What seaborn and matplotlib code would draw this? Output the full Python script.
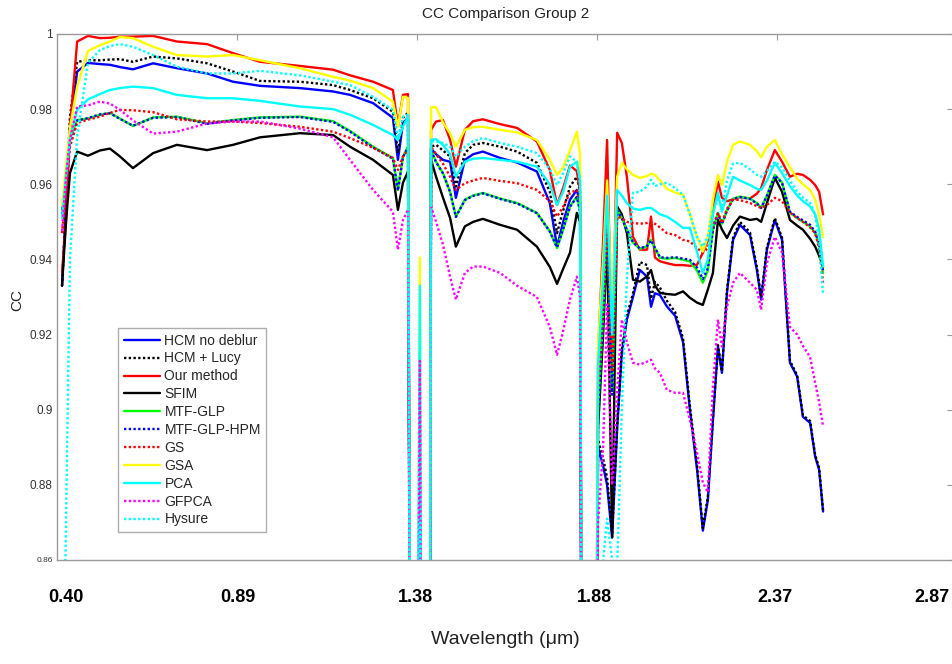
import matplotlib
matplotlib.use("Agg")
import matplotlib.pyplot as plt
import seaborn as sns
import pandas as pd

# ---------------- data ----------------
band = [1.4, 2.5, 3.6, 5.6, 8.6, 11.9, 14.7, 17.5, 21.1, 26.7, 33.3, 41.7, 48.9, 56.4, 67.5, 76.7, 81.4, 87.8, 93.3, 94.7, 96.1, 97.5,
        98.9, 100.8, 101.9, 103.1,
        103.9, 105.3, 107.2, 109.2, 110.8, 113.3, 115.6, 118.3, 123.1, 127.8, 133.3, 136.9, 138.9, 140.6, 142.5, 144.4, 145.3,
        146.4, 148.6,
        150.3, 151.7, 152.8, 154.2, 155.6, 156.9, 158.3, 160.0, 161.9, 163.9, 165.0, 166.1, 167.5, 169.4, 171.7, 173.9, 175.8,
        177.8, 179.4, 180.8, 182.2, 183.6, 184.7, 186.1, 187.8, 189.7, 192.5, 194.4, 195.6, 197.2, 199.4, 201.4, 203.6, 205.6,
        207.2, 209.2, 210.6, 211.7, 212.8]

hcm_no_deblur = [0.933, 0.955, 0.975, 0.990, 0.9923, 0.9920, 0.9918, 0.9912, 0.9906, 0.9922, 0.9909, 0.9895, 0.9873, 0.9862, 0.9856, 0.9847, 0.9838, 0.9816, 0.9777, 0.9665, 0.9763, 0.9777,
                 0.60, 0.890, 0.60, 0.60,
                 0.9695, 0.968, 0.9665, 0.966, 0.9564, 0.9665, 0.968, 0.9687, 0.967, 0.9658, 0.9634, 0.955, 0.9434, 0.950, 0.9559, 0.9585, 0.955,
                 0.60, 0.60,
                 0.890, 0.885, 0.880, 0.866, 0.895, 0.915, 0.924, 0.930, 0.9372, 0.9354, 0.9274, 0.931, 0.9305, 0.9275, 0.925, 0.918, 0.900,
                 0.884, 0.8678, 0.876, 0.897, 0.9168, 0.9098, 0.9311, 0.9452, 0.9492, 0.9465, 0.9372, 0.9293, 0.9426, 0.9505, 0.9452, 0.9125, 0.9088,
                 0.8981, 0.8965, 0.8875, 0.884, 0.8729]

hcm_lucy = [0.933, 0.955, 0.978, 0.9926, 0.9930, 0.9930, 0.9932, 0.9933, 0.9926, 0.9940, 0.9935, 0.9922, 0.9900, 0.9875, 0.9873, 0.9864, 0.9851, 0.9829, 0.9793, 0.9683, 0.9777, 0.9790,
            0.60, 0.888, 0.60, 0.60,
            0.970, 0.9705, 0.969, 0.9674, 0.9594, 0.9683, 0.9705, 0.971, 0.970, 0.9687, 0.9657, 0.958, 0.947, 0.953, 0.9594, 0.962, 0.958,
            0.60, 0.60,
            0.892, 0.887, 0.882, 0.867, 0.896, 0.916, 0.925, 0.931, 0.9393, 0.9385, 0.9295, 0.934, 0.9325, 0.929, 0.926, 0.919, 0.901,
            0.885, 0.8685, 0.877, 0.898, 0.9172, 0.9102, 0.9318, 0.9458, 0.9500, 0.9472, 0.9380, 0.9300, 0.9432, 0.9510, 0.9458, 0.9130, 0.9092,
            0.8985, 0.8970, 0.8880, 0.8845, 0.8732]

our_method = [0.9365, 0.950, 0.975, 0.998, 0.9995, 0.9989, 0.9990, 0.9993, 0.9993, 0.9995, 0.9980, 0.9973, 0.9949, 0.9926, 0.9915, 0.9905, 0.9890, 0.9873, 0.9851, 0.9755, 0.9838, 0.9840,
              0.60, 0.905, 0.60, 0.60,
              0.9745, 0.9767, 0.9771, 0.9718, 0.9647, 0.9745, 0.9768, 0.9773, 0.9760, 0.9750, 0.9714, 0.9638, 0.9545, 0.959, 0.965, 0.9635, 0.958,
              0.60, 0.60,
              0.915, 0.945, 0.9718, 0.912, 0.9737, 0.971, 0.962, 0.946, 0.9426, 0.9426, 0.9514, 0.9405, 0.9395, 0.939, 0.9385, 0.9385, 0.9383,
              0.9386, 0.9418, 0.9452, 0.953, 0.9607, 0.9564, 0.9555, 0.9560, 0.9566, 0.9562, 0.9575, 0.9590, 0.9638, 0.9691, 0.9660, 0.9620, 0.9628,
              0.9625, 0.9612, 0.9598, 0.9580, 0.9520]

sfim = [0.933, 0.950, 0.963, 0.9687, 0.9676, 0.9690, 0.9695, 0.9674, 0.9643, 0.9683, 0.9705, 0.9691, 0.9705, 0.9725, 0.9736, 0.9731, 0.9700, 0.9665, 0.9625, 0.9532, 0.9604, 0.9634,
        0.60, 0.885, 0.60, 0.60,
        0.9665, 0.962, 0.9565, 0.951, 0.9434, 0.9488, 0.950, 0.9508, 0.9492, 0.9479, 0.9434, 0.938, 0.9335, 0.9375, 0.9418, 0.9524, 0.950,
        0.60, 0.60,
        0.895, 0.920, 0.945, 0.866, 0.9541, 0.952, 0.947, 0.9346, 0.9341, 0.9355, 0.9372, 0.933, 0.9311, 0.9308, 0.9306, 0.9315, 0.9298,
        0.9285, 0.9279, 0.932, 0.9364, 0.9505, 0.948, 0.9457, 0.949, 0.9514, 0.9505, 0.9508, 0.9500, 0.955, 0.9617, 0.958, 0.9505, 0.9490,
        0.9479, 0.9455, 0.9434, 0.9410, 0.9380]

mtf_glp = [0.953, 0.962, 0.972, 0.9771, 0.9775, 0.9785, 0.9790, 0.9775, 0.9755, 0.9778, 0.9780, 0.9762, 0.9771, 0.9778, 0.9780, 0.9768, 0.9742, 0.9700, 0.9670, 0.9585, 0.9674, 0.9700,
           0.60, 0.895, 0.60, 0.60,
           0.9691, 0.966, 0.963, 0.958, 0.9514, 0.9559, 0.957, 0.9577, 0.9562, 0.955, 0.9524, 0.9475, 0.943, 0.948, 0.9541, 0.9567, 0.953,
           0.60, 0.60,
           0.900, 0.925, 0.952, 0.905, 0.9532, 0.951, 0.948, 0.9445, 0.9428, 0.9435, 0.9452, 0.943, 0.9404, 0.9402, 0.9404, 0.9399, 0.9395,
           0.937, 0.9338, 0.937, 0.948, 0.9524, 0.9495, 0.953, 0.9562, 0.9567, 0.9562, 0.955, 0.9537, 0.957, 0.9625, 0.9605, 0.9524, 0.951,
           0.950, 0.9488, 0.947, 0.944, 0.9364]

mtf_glp_hpm = [0.952, 0.961, 0.971, 0.9770, 0.9776, 0.9786, 0.9789, 0.9774, 0.9756, 0.9777, 0.9779, 0.9761, 0.9770, 0.9777, 0.9779, 0.9766, 0.9740, 0.9698, 0.9668, 0.9583, 0.9672, 0.9698,
               0.60, 0.893, 0.60, 0.60,
               0.9690, 0.9659, 0.9629, 0.9579, 0.9513, 0.9558, 0.9569, 0.9576, 0.9561, 0.9549, 0.9523, 0.9474, 0.9432, 0.9481, 0.9540, 0.9566, 0.9529,
               0.60, 0.60,
               0.899, 0.924, 0.951, 0.904, 0.9530, 0.9509, 0.9479, 0.9446, 0.9429, 0.9436, 0.9451, 0.9431, 0.9406, 0.9404, 0.9406, 0.9402, 0.9399,
               0.9378, 0.9348, 0.9376, 0.9478, 0.9522, 0.9494, 0.9529, 0.9561, 0.9566, 0.9561, 0.9549, 0.9537, 0.9569, 0.9623, 0.9604, 0.9527, 0.9513,
               0.9504, 0.9492, 0.9474, 0.9444, 0.9368]

gs = [0.947, 0.958, 0.970, 0.9763, 0.9772, 0.9780, 0.9790, 0.9798, 0.9797, 0.9792, 0.9773, 0.9767, 0.9767, 0.9763, 0.9753, 0.9740, 0.9723, 0.9697, 0.9670, 0.9638, 0.9674, 0.9691,
      0.60, 0.900, 0.60, 0.60,
      0.970, 0.968, 0.9655, 0.962, 0.9585, 0.9603, 0.961, 0.9617, 0.9609, 0.9603, 0.9585, 0.9555, 0.9514, 0.954, 0.9577, 0.9585, 0.955,
      0.60, 0.60,
      0.905, 0.930, 0.950, 0.910, 0.9514, 0.951, 0.950, 0.9497, 0.9495, 0.9497, 0.9500, 0.9495, 0.9485, 0.9470, 0.9465, 0.9452, 0.9448,
      0.9430, 0.9418, 0.9430, 0.9490, 0.9524, 0.9497, 0.9535, 0.9559, 0.9558, 0.9550, 0.9542, 0.9537, 0.9545, 0.9564, 0.9555, 0.9525, 0.9510,
      0.9500, 0.9485, 0.9470, 0.9430, 0.9338]

gsa = [0.9545, 0.965, 0.975, 0.986, 0.9955, 0.997, 0.998, 0.9992, 0.9989, 0.9966, 0.9944, 0.9940, 0.9944, 0.9930, 0.9909, 0.9886, 0.9876, 0.9856, 0.9820, 0.9753, 0.9833, 0.9830,
       0.60, 0.9405, 0.60, 0.60,
       0.9805, 0.9805, 0.9765, 0.9735, 0.9700, 0.9745, 0.9752, 0.9753, 0.9745, 0.9738, 0.9718, 0.9665, 0.9625, 0.9645, 0.9690, 0.9740, 0.9680,
       0.60, 0.60,
       0.918, 0.940, 0.961, 0.925, 0.962, 0.9657, 0.964, 0.9625, 0.9617, 0.9622, 0.9628, 0.9625, 0.9610, 0.9588, 0.9578, 0.9572, 0.9520,
       0.9460, 0.9421, 0.9460, 0.9560, 0.9625, 0.9598, 0.9660, 0.9705, 0.9714, 0.9705, 0.9688, 0.9672, 0.9700, 0.9718, 0.9680, 0.9645, 0.9615,
       0.9600, 0.9585, 0.9559, 0.9520, 0.9460]

pca = [0.951, 0.962, 0.972, 0.9798, 0.9826, 0.9840, 0.9851, 0.9856, 0.9860, 0.9856, 0.9838, 0.9829, 0.9829, 0.9822, 0.9807, 0.9800, 0.9785, 0.9758, 0.9731, 0.9718, 0.9753, 0.9780,
       0.60, 0.933, 0.60, 0.60,
       0.9718, 0.972, 0.9705, 0.968, 0.962, 0.966, 0.9668, 0.967, 0.9665, 0.966, 0.9647, 0.960, 0.9545, 0.958, 0.9647, 0.966, 0.961,
       0.60, 0.60,
       0.912, 0.935, 0.957, 0.920, 0.9585, 0.957, 0.955, 0.9535, 0.9532, 0.9537, 0.9537, 0.9530, 0.9520, 0.9514, 0.9500, 0.9484, 0.9484,
       0.9420, 0.9364, 0.9400, 0.9520, 0.9577, 0.9527, 0.9570, 0.9620, 0.9610, 0.9598, 0.9588, 0.9585, 0.9610, 0.9657, 0.9630, 0.9595, 0.9570,
       0.9555, 0.9541, 0.9520, 0.9480, 0.9381]

gfpca = [0.9476, 0.962, 0.972, 0.9807, 0.9810, 0.9820, 0.9815, 0.9798, 0.9770, 0.9735, 0.9740, 0.9762, 0.9767, 0.9767, 0.9748, 0.9725, 0.9665, 0.9585, 0.9527, 0.9426, 0.9505, 0.9532,
         0.60, 0.913, 0.60, 0.60,
         0.9541, 0.950, 0.944, 0.9354, 0.9293, 0.9364, 0.9381, 0.9381, 0.9364, 0.9330, 0.9300, 0.9220, 0.9146, 0.9210, 0.9293, 0.9354, 0.930,
         0.60, 0.60,
         0.870, 0.890, 0.928, 0.880, 0.905, 0.924, 0.918, 0.9125, 0.9120, 0.9128, 0.9133, 0.9110, 0.9098, 0.9053, 0.9045, 0.9045, 0.8973,
         0.8886, 0.8806, 0.8780, 0.9061, 0.9240, 0.9168, 0.9274, 0.9338, 0.9364, 0.9338, 0.9319, 0.9266, 0.9390, 0.9460, 0.9418, 0.9220, 0.9200,
         0.9170, 0.9140, 0.9072, 0.9020, 0.8955]

hysure = [0.800, 0.870, 0.940, 0.9727, 0.9923, 0.9957, 0.9968, 0.9973, 0.9966, 0.9944, 0.9913, 0.9895, 0.9895, 0.9902, 0.9890, 0.9873, 0.9864, 0.9833, 0.9798, 0.9723, 0.9780, 0.9785,
          0.60, 0.870, 0.60, 0.60,
          0.9714, 0.9714, 0.971, 0.970, 0.9674, 0.970, 0.9715, 0.9723, 0.9710, 0.9700, 0.9683, 0.9640, 0.9598, 0.9630, 0.9674, 0.9660, 0.9600,
          0.60, 0.60,
          0.855, 0.860, 0.871, 0.860, 0.858, 0.900, 0.935, 0.9577, 0.9580, 0.9594, 0.9612, 0.9595, 0.9600, 0.9604, 0.9590, 0.9572, 0.9520,
          0.9460, 0.9434, 0.9460, 0.9530, 0.9559, 0.9540, 0.9610, 0.9655, 0.9657, 0.9640, 0.9625, 0.9620, 0.9635, 0.9660, 0.9645, 0.9610, 0.9580,
          0.9565, 0.9550, 0.9520, 0.9450, 0.9306]

method_names = ["HCM no deblur", "HCM + Lucy", "Our method", "SFIM", "MTF-GLP", "MTF-GLP-HPM",
                "GS", "GSA", "PCA", "GFPCA", "Hysure"]
series = [hcm_no_deblur, hcm_lucy, our_method, sfim, mtf_glp, mtf_glp_hpm, gs, gsa, pca, gfpca, hysure]

y_ticks = [0.86, 0.88, 0.90, 0.92, 0.94, 0.96, 0.98, 1.00]
x_tick_bands = [50, 100, 150, 200]
x_label_texts = ["0.40", "0.89", "1.38", "1.88", "2.37", "2.87"]

# ---------------- styles ----------------
colors = ["#0000ff", "#000000", "#ff0000", "#000000", "#00ff00", "#0000ff",
          "#ff0000", "#ffff00", "#00ffff", "#ff00ff", "#00ffff"]
dotted = (0, (1, 1))
styles = ["-", dotted, "-", "-", "-", dotted, dotted, "-", "-", dotted, dotted]

sns.set_style("white")
plt.rcParams["font.family"] = ["Liberation Sans", "DejaVu Sans"]

fig = plt.figure(figsize=(9.52, 6.64), dpi=100)
ax = fig.add_axes([57 / 952, 1 - 560 / 664, 896.4 / 952, 526 / 664])

for name, vals, c, ls in zip(method_names, series, colors, styles):
    assert len(vals) == len(band), name
    df = pd.DataFrame({"band": band, "CC": vals})
    sns.lineplot(data=df, x="band", y="CC", ax=ax, color=c, linestyle=ls,
                 linewidth=1.7, label=name, sort=False, estimator=None)

ax.set_xlim(0, 249)
ax.set_ylim(0.86, 1.0)

grey = "#9a9a9a"
for sp in ax.spines.values():
    sp.set_color(grey)
    sp.set_linewidth(1.0)
    sp.set_visible(True)

ax.set_xticks(x_tick_bands)
ax.set_xticklabels([])
ax.set_yticks(y_ticks)
ax.set_yticklabels([f"{v:g}" for v in y_ticks])
ax.tick_params(axis="both", direction="in", length=4, width=0.8, color=grey,
               top=True, right=True, labelsize=8.5, labelcolor="#333333")
ax.tick_params(axis="y", pad=3)
ax.get_yticklabels()[0].set_fontsize(6)

# wavelength labels under the axis
label_bands = [2.5, 50.3, 99.7, 149.4, 199.4, 243]
for b, t in zip(label_bands, x_label_texts):
    ax.text(b, -0.072, t, transform=ax.get_xaxis_transform(), ha="center", va="center",
            fontsize=13, fontweight="bold", color="black")

ax.set_xlabel("Wavelength (\u03bcm)", fontsize=14, color="#222222")
ax.xaxis.set_label_coords(0.5, -0.152)
ax.xaxis.label.set_va("center")
ax.set_ylabel("CC", fontsize=11, color="#222222")
ax.yaxis.set_label_coords(-0.0446, 0.494)
ax.yaxis.label.set_va("center")
ax.set_title("CC Comparison Group 2", fontsize=11, color="#222222", y=1.03, pad=0)

leg = ax.legend(loc="upper left", bbox_to_anchor=(0.068, 0.441), borderaxespad=0,
                fontsize=10, frameon=True, fancybox=False, handlelength=2.6,
                labelspacing=0.28, handletextpad=0.35, borderpad=0.4)
leg.get_frame().set_edgecolor(grey)
leg.get_frame().set_linewidth(1.0)

fig.savefig("out.png", dpi=100)
